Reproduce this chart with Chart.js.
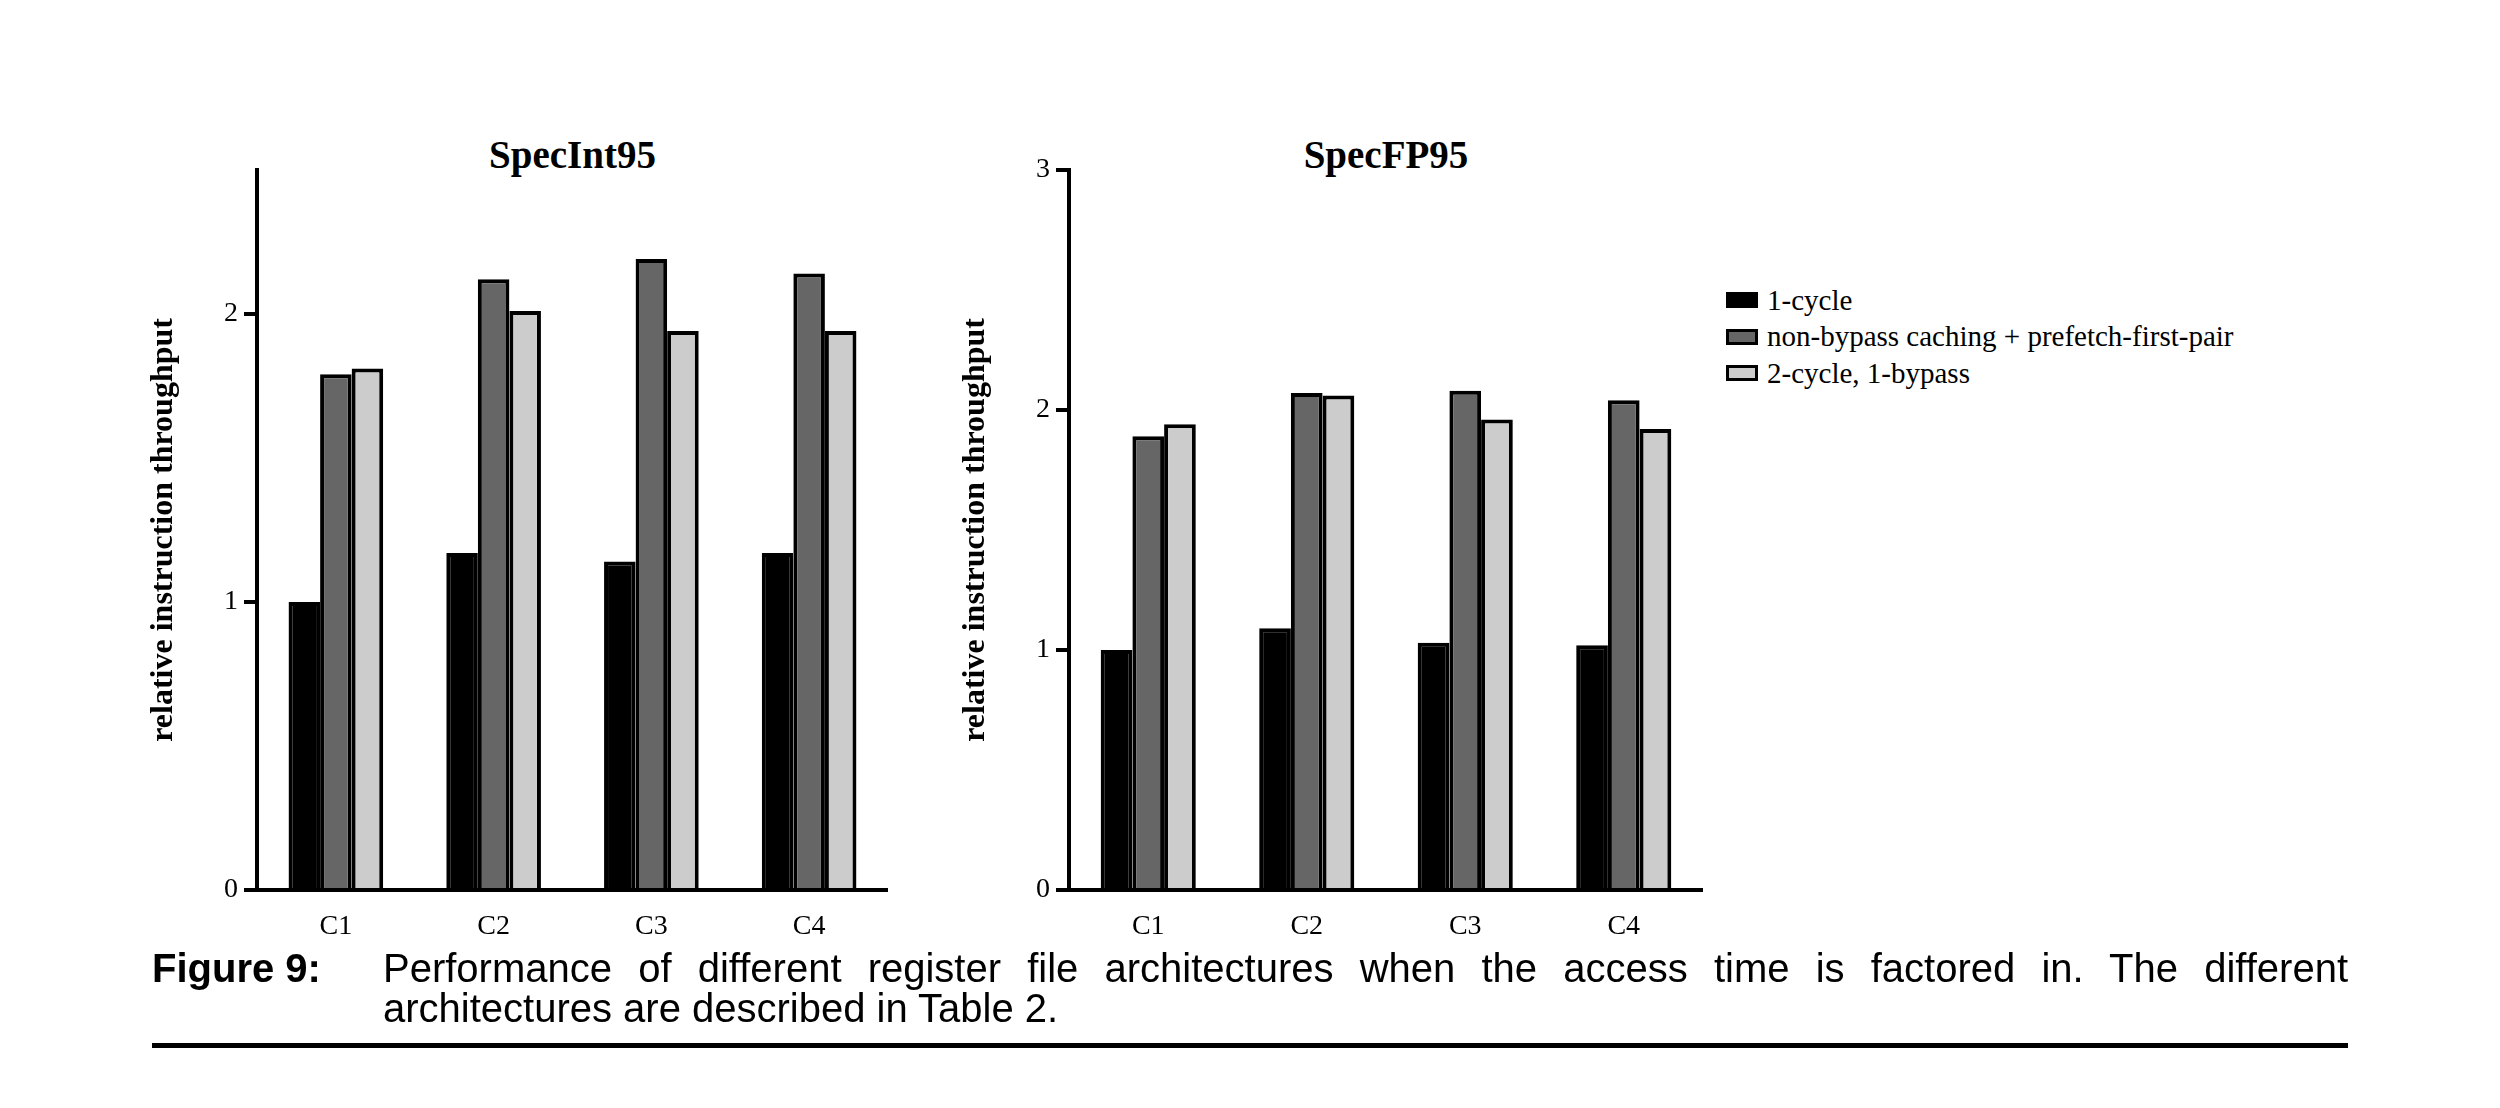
<!DOCTYPE html>
<html>
<head>
<meta charset="utf-8">
<script src="https://cdn.jsdelivr.net/npm/chart.js@4.4.1/dist/chart.umd.min.js"></script>
<style>
  body { margin: 0; background: #fff; width: 2500px; height: 1108px; position: relative; overflow: hidden; }
  .box { position: absolute; }
  .title { position: absolute; font-family: "Liberation Serif", serif; font-weight: bold; font-size: 39px; text-align: center; }
  #legend { position: absolute; left: 1726px; top: 282px; font-family: "Liberation Serif", serif; font-size: 29px; }
  #legend div { height: 36.5px; display: flex; align-items: center; }
  #legend span.sw { display: inline-block; width: 26px; height: 10px; border: 3px solid #000; margin-right: 9px; }
  #caption { position: absolute; left: 152px; top: 948px; width: 2196px; font-family: "Liberation Sans", Arial, sans-serif; font-size: 40px; line-height: 40px; }
  #caption .lab { position: absolute; left: 0; top: 0; font-weight: bold; }
  #caption .txt { margin-left: 231px; text-align: justify; }
  #rule { position: absolute; left: 152px; top: 1043px; width: 2196px; height: 5px; background: #000; }
</style>
</head>
<body>
<div class="title" style="left:257px;width:631px;top:132px">SpecInt95</div>
<div class="title" style="left:1069px;width:634px;top:132px">SpecFP95</div>
<div class="box" style="left:145px;top:147px;width:743px;height:813px"><canvas id="intChart"></canvas></div>
<div class="box" style="left:957px;top:147px;width:746px;height:813px"><canvas id="fpChart"></canvas></div>
<div id="legend"></div>
<div id="caption"><span class="lab">Figure 9:</span><div class="txt">Performance of different register file architectures when the access time is factored in. The different architectures are described in Table 2.</div></div>
<div id="rule"></div>
<script>
const categories = ["C1", "C2", "C3", "C4"];
const seriesNames = ["1-cycle", "non-bypass caching + prefetch-first-pair", "2-cycle, 1-bypass"];
const seriesColors = ["#000000", "#666666", "#cccccc"];

const intOneCycle = [1.0, 1.17, 1.14, 1.17];
const intCaching = [1.79, 2.12, 2.19, 2.14];
const intTwoCycle = [1.81, 2.01, 1.94, 1.94];

const fpOneCycle = [1.0, 1.09, 1.03, 1.02];
const fpCaching = [1.89, 2.07, 2.08, 2.04];
const fpTwoCycle = [1.94, 2.06, 1.96, 1.92];

const serif = "'Liberation Serif', serif";

function makeChart(id, series, yMax) {
  new Chart(document.getElementById(id), {
    type: "bar",
    data: {
      labels: categories,
      datasets: series.map((vals, i) => ({
        label: seriesNames[i],
        data: vals,
        backgroundColor: seriesColors[i],
        borderColor: "#000",
        borderWidth: 4,
        borderSkipped: "bottom",
        barPercentage: 1.0,
        categoryPercentage: 0.6
      }))
    },
    options: {
      responsive: true,
      maintainAspectRatio: false,
      animation: false,
      layout: { padding: { top: 20, right: 0 } },
      plugins: { legend: { display: false }, tooltip: { enabled: false } },
      scales: {
        x: {
          grid: { display: false },
          border: { color: "#000", width: 4 },
          ticks: { color: "#000", padding: 12, font: { family: serif, size: 28 } },
          afterFit: s => { s.height = 70; }
        },
        y: {
          min: 0, max: yMax,
          grid: {
            drawOnChartArea: false, lineWidth: 4, tickLength: 13,
            color: ctx => (ctx.tick && ctx.tick.value % 1 !== 0) ? "rgba(0,0,0,0)" : "#000"
          },
          border: { color: "#000", width: 4 },
          ticks: {
            stepSize: 0.5, color: "#000", padding: 6, font: { family: serif, size: 28 },
            callback: v => (v % 1 === 0 ? v : "")
          },
          title: { display: true, text: "relative instruction throughput", color: "#000",
                   font: { family: serif, size: 32, weight: "bold" }, padding: 0 },
          afterFit: s => { s.width = 112; }
        }
      }
    }
  });
}

makeChart("intChart", [intOneCycle, intCaching, intTwoCycle], 2.5);
makeChart("fpChart", [fpOneCycle, fpCaching, fpTwoCycle], 3);

const legend = document.getElementById("legend");
seriesNames.forEach((name, i) => {
  const row = document.createElement("div");
  row.innerHTML = `<span class="sw" style="background:${seriesColors[i]}"></span>${name}`;
  legend.appendChild(row);
});
</script>
</body>
</html>
